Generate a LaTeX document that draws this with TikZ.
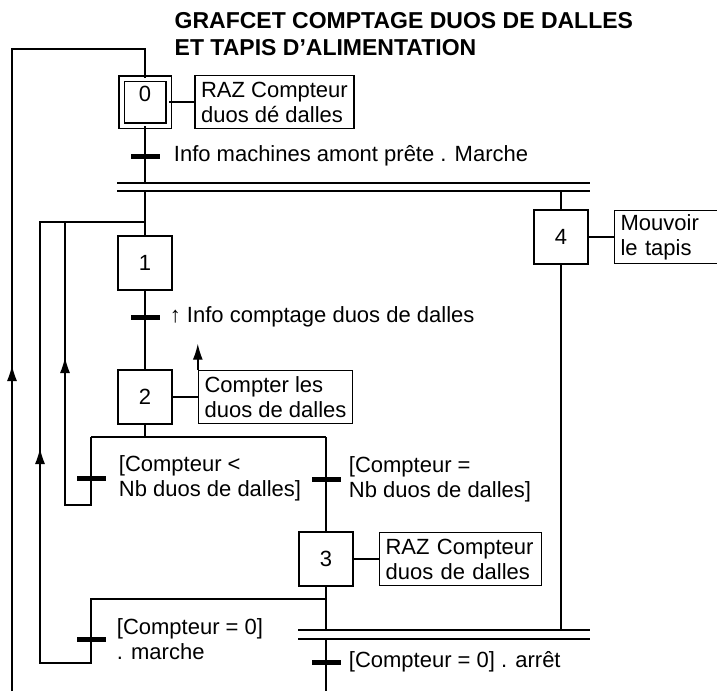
\documentclass[tikz,border=0pt]{standalone}
\usepackage{fontspec}
\setmainfont{Liberation Sans}
\usetikzlibrary{arrows.meta, math, decorations.markings, positioning}

\begin{document}
\begin{tikzpicture}[x=1pt, y=-1pt, line width=1.4pt, node distance=25pt,
  every node/.style={font=\fontsize{22}{25}\selectfont},
  titre/.style={anchor=west, inner sep=0pt, font=\fontsize{23}{27}\selectfont\bfseries},
  etape/.style={draw, line width=1.6pt, minimum width=54pt, minimum height=54pt, inner sep=0pt},
  action/.style={draw, line width=1.6pt, align=left, minimum height=53pt, inner xsep=6pt},
  trans/.style={fill, minimum width=29pt, minimum height=5pt, inner sep=0pt},
  recept/.style={inner sep=2pt, align=left},
  fleche/.style={-{Latex[length=16pt,width=10pt]}},
  retour/.style={postaction={decorate}, decoration={markings,
    mark=at position #1 with {\arrow{Latex[length=16pt,width=10pt]}}}}]
\tikzmath{
\xm=145;
\xr=326;
\xf=561;
\xb=91;
\xl=12;
\xll=40;
\xlm=65;
}
\useasboundingbox (0,0) rectangle (717,691);

% titre
\node[titre] (titre1) at (174,21) {GRAFCET COMPTAGE DUOS DE DALLES};
\node[titre] (titre2) at (174,48) {ET TAPIS D’ALIMENTATION};

% etapes
\node[etape, double, double distance=4pt, minimum width=47pt, minimum height=47pt, text depth=16pt] (s0) at (\xm,102) {0};
\node[etape] (s1) at (\xm,263) {1};
\node[etape] (s2) at (\xm,397) {2};
\node[etape] (s3) at (\xr,559) {3};
\node[etape] (s4) at (\xf,237) {4};

% actions
\node[action, right=of s0] (a0) {RAZ Compteur\\duos dé dalles};
\node[action, right=of s2] (a2) {Compter les\\duos de dalles};
\node[action, right=of s3, text width=150pt] (a3) {RAZ Compteur\\duos de dalles};
\node[action, right=of s4, text width=100pt] (a4) {Mouvoir\\le tapis};
\draw (s0.east) -- (a0.west);
\draw (s2.east) -- (a2.west);
\draw (s3.east) -- (a3.west);
\draw (s4.east) -- (a4.west);
\draw[fleche] (a2.north west) -- ([yshift=26pt]a2.north west);

% points de liaison
\coordinate (top0) at (\xm,49);
\coordinate (j1) at (\xm,222);
\coordinate (or2) at (\xm,437);
\coordinate (or3) at (\xr,599);
\coordinate (k1) at (\xlm,505);
\coordinate (k2) at (\xll,663);
\coordinate (fin) at (\xr,691);
\coordinate (bl) at (\xl,691);
\coordinate (d1w) at (117,183);
\coordinate (d1e) at (590,183);
\coordinate (d2w) at (117,191);
\coordinate (d2e) at (590,191);
\coordinate (b1w) at (298,630);
\coordinate (b1e) at (590,630);
\coordinate (b2w) at (298,639);
\coordinate (b2e) at (590,639);

% transitions
\node[trans] (t0) at (\xm,156) {};
\node[trans] (t1) at (\xm,317) {};
\node[trans] (t2a) at (\xb,478) {};
\node[trans] (t2b) at (\xr,479) {};
\node[trans] (t3a) at (\xb,639) {};
\node[trans] (t4) at (\xr,662) {};
\node[recept, right=11pt of t0] (r0) {Info machines amont prête . Marche};
\node[recept, right=7pt of t1] (r1) {↑ Info comptage duos de dalles};
\node[recept, right=10pt of t2a] (r2a) {[Compteur <\\Nb duos de dalles]};
\node[recept, right=5pt of t2b] (r2b) {[Compteur =\\Nb duos de dalles]};
\node[recept, right=8pt of t3a] (r3a) {[Compteur = 0]\\. marche};
\node[recept, right=5pt of t4] (r4) {[Compteur = 0] . arrêt};

% liaisons
\draw (d1w) -- (d1e);
\draw (d2w) -- (d2e);
\draw (b1w) -- (b1e);
\draw (b2w) -- (b2e);
\draw (s0.south) -- (s0.south |- d1w);
\draw (s1.north |- d2w) -- (s1.north);
\draw (s4.north |- d2w) -- (s4.north);
\draw (s1) -- (s2);
\draw (s2.south) -- (or2);
\draw (t2a |- or2) -- (t2b |- or2);
\draw (t2b |- or2) -- (s3.north);
\draw (s3.south) -- (s3.south |- b1w);
\draw (s4.south) -- (s4.south |- b1w);
\draw (s3.south |- b2w) -- (fin);

% reprises
\draw[retour=326pt] (bl) |- (top0) -- (s0.north);
\draw[retour=242pt] (t2a |- or2) |- (k1) -- (k1 |- j1);
\draw[retour=565pt] (or3) -| (t3a.center) -- (t3a |- k2) -- (k2) -- (k2 |- j1) -- (j1);

\end{tikzpicture}
\end{document}
